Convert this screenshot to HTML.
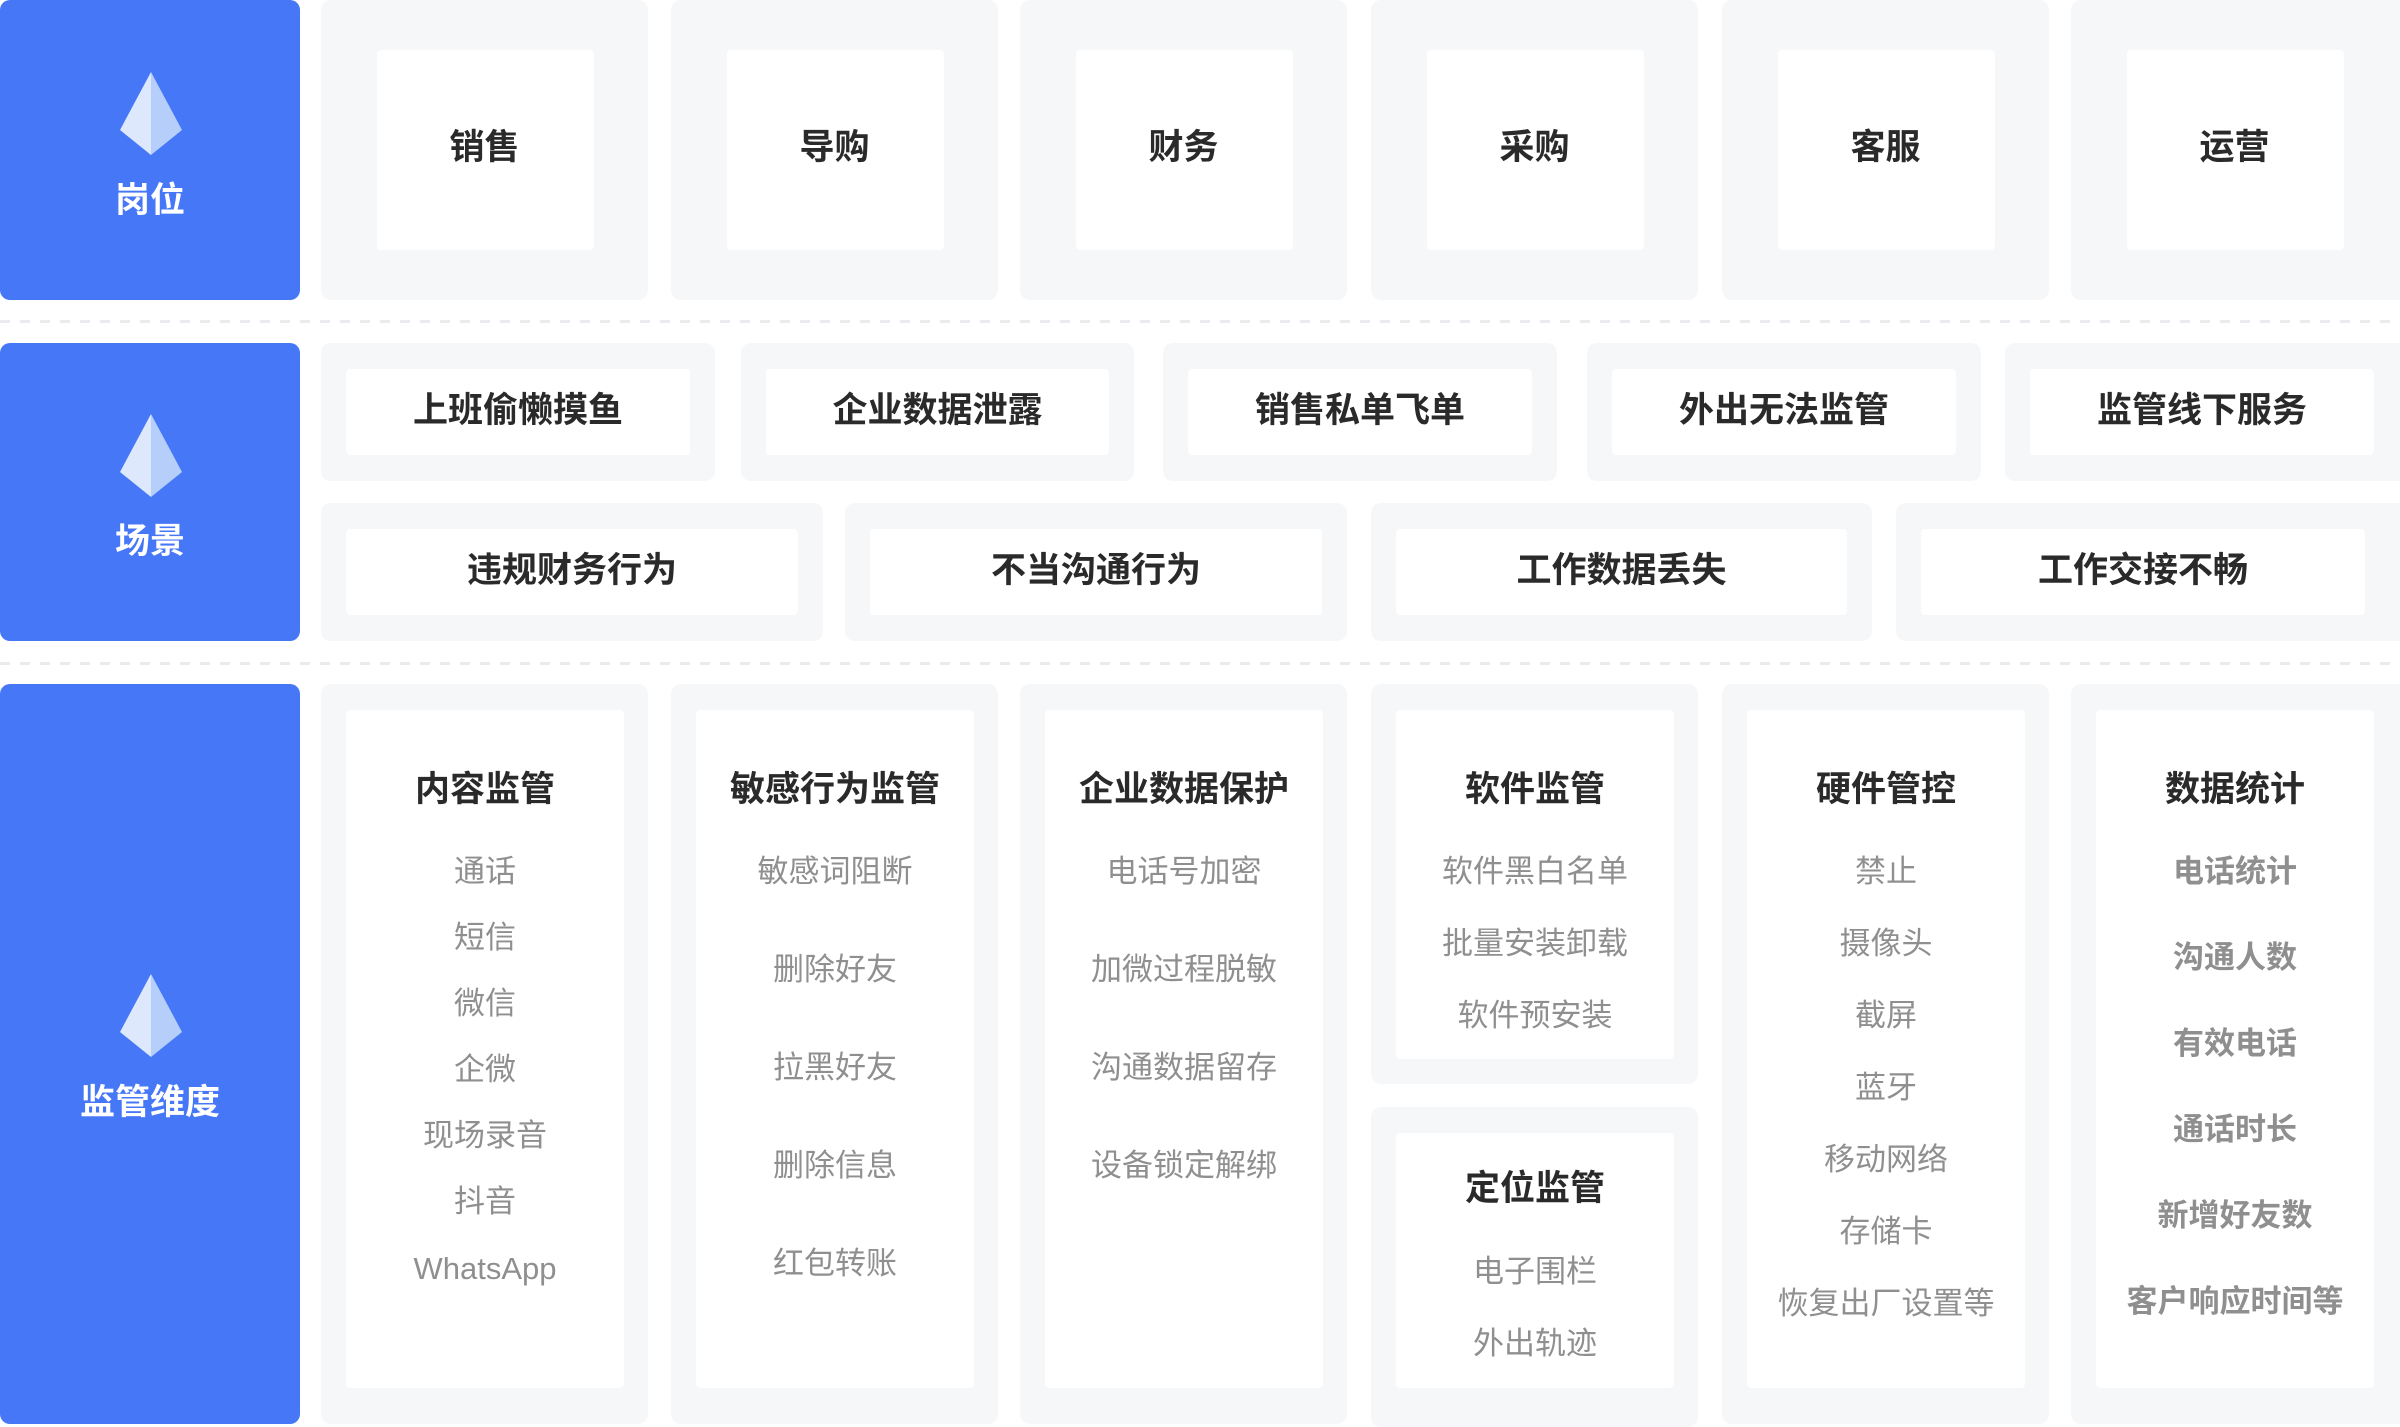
<!DOCTYPE html>
<html><head><meta charset="utf-8"><style>
*{margin:0;padding:0;box-sizing:border-box}
body{width:2400px;height:1416px;background:#fff;position:relative;overflow:hidden;font-family:"Liberation Sans","Noto Sans CJK SC",sans-serif}
div{position:absolute}
.b{background:#4677f6;border-radius:10px;left:0;width:300px}
.c{background:#f5f7f9;border-radius:10px}
.w{background:#fff;border-radius:4px}
.t{text-align:center;height:50px;line-height:50px;white-space:nowrap}
.h{font-size:35px;font-weight:bold;color:#2a2a2a}
.bl{font-size:35px;font-weight:bold;color:#fff;left:0;width:300px}
.i{font-size:31px;color:#8f8f8f}
.ib{font-size:31px;color:#8f8f8f;font-weight:bold}
.d{left:0;width:2400px;height:3px;background:repeating-linear-gradient(90deg,#e9ebef 0 10px,transparent 10px 20px)}
</style></head><body>
<!-- blue -->
<div class="b" style="top:0;height:300px"></div>
<div class="b" style="top:343px;height:298px"></div>
<div class="b" style="top:684px;height:740px"></div>
<svg style="position:absolute;left:0;top:0" width="300" height="1416">
<g id="dm"><polygon points="151,72 120,130 151,155" fill="#dde8fc"/><polygon points="151,72 182,130 151,155" fill="#b5cefa"/></g>
<g transform="translate(0,342)"><polygon points="151,72 120,130 151,155" fill="#dde8fc"/><polygon points="151,72 182,130 151,155" fill="#b5cefa"/></g>
<g transform="translate(0,902)"><polygon points="151,72 120,130 151,155" fill="#dde8fc"/><polygon points="151,72 182,130 151,155" fill="#b5cefa"/></g>
</svg>
<div class="t bl" style="top:176px">岗位</div>
<div class="t bl" style="top:517px">场景</div>
<div class="t bl" style="top:1078px">监管维度</div>
<div class="d" style="top:320px"></div>
<div class="d" style="top:662px"></div>

<!-- row1 -->
<div class="c" style="left:321px;top:0;width:327px;height:300px"></div><div class="w" style="left:377px;top:50px;width:217px;height:200px"></div><div class="t h" style="left:321px;width:327px;top:123px">销售</div>
<div class="c" style="left:671px;top:0;width:327px;height:300px"></div><div class="w" style="left:727px;top:50px;width:217px;height:200px"></div><div class="t h" style="left:671px;width:327px;top:123px">导购</div>
<div class="c" style="left:1020px;top:0;width:327px;height:300px"></div><div class="w" style="left:1076px;top:50px;width:217px;height:200px"></div><div class="t h" style="left:1020px;width:327px;top:123px">财务</div>
<div class="c" style="left:1371px;top:0;width:327px;height:300px"></div><div class="w" style="left:1427px;top:50px;width:217px;height:200px"></div><div class="t h" style="left:1371px;width:327px;top:123px">采购</div>
<div class="c" style="left:1722px;top:0;width:327px;height:300px"></div><div class="w" style="left:1778px;top:50px;width:217px;height:200px"></div><div class="t h" style="left:1722px;width:327px;top:123px">客服</div>
<div class="c" style="left:2071px;top:0;width:340px;height:300px"></div><div class="w" style="left:2127px;top:50px;width:217px;height:200px"></div><div class="t h" style="left:2071px;width:327px;top:123px">运营</div>

<!-- row2a -->
<div class="c" style="left:321px;top:343px;width:394px;height:138px"></div><div class="w" style="left:346px;top:369px;width:344px;height:86px"></div><div class="t h" style="left:321px;width:394px;top:386px">上班偷懒摸鱼</div>
<div class="c" style="left:741px;top:343px;width:393px;height:138px"></div><div class="w" style="left:766px;top:369px;width:343px;height:86px"></div><div class="t h" style="left:741px;width:393px;top:386px">企业数据泄露</div>
<div class="c" style="left:1163px;top:343px;width:394px;height:138px"></div><div class="w" style="left:1188px;top:369px;width:344px;height:86px"></div><div class="t h" style="left:1163px;width:394px;top:386px">销售私单飞单</div>
<div class="c" style="left:1587px;top:343px;width:394px;height:138px"></div><div class="w" style="left:1612px;top:369px;width:344px;height:86px"></div><div class="t h" style="left:1587px;width:394px;top:386px">外出无法监管</div>
<div class="c" style="left:2005px;top:343px;width:410px;height:138px"></div><div class="w" style="left:2030px;top:369px;width:344px;height:86px"></div><div class="t h" style="left:2030px;width:344px;top:386px">监管线下服务</div>
<!-- row2b -->
<div class="c" style="left:321px;top:503px;width:502px;height:138px"></div><div class="w" style="left:346px;top:529px;width:452px;height:86px"></div><div class="t h" style="left:321px;width:502px;top:546px">违规财务行为</div>
<div class="c" style="left:845px;top:503px;width:502px;height:138px"></div><div class="w" style="left:870px;top:529px;width:452px;height:86px"></div><div class="t h" style="left:845px;width:502px;top:546px">不当沟通行为</div>
<div class="c" style="left:1371px;top:503px;width:501px;height:138px"></div><div class="w" style="left:1396px;top:529px;width:451px;height:86px"></div><div class="t h" style="left:1371px;width:501px;top:546px">工作数据丢失</div>
<div class="c" style="left:1896px;top:503px;width:520px;height:138px"></div><div class="w" style="left:1921px;top:529px;width:444px;height:86px"></div><div class="t h" style="left:1921px;width:444px;top:546px">工作交接不畅</div>

<!-- row3 -->
<div class="c" style="left:321px;top:684px;width:327px;height:740px"></div><div class="w" style="left:346px;top:710px;width:278px;height:678px"></div>
<div class="c" style="left:671px;top:684px;width:327px;height:740px"></div><div class="w" style="left:696px;top:710px;width:278px;height:678px"></div>
<div class="c" style="left:1020px;top:684px;width:327px;height:740px"></div><div class="w" style="left:1045px;top:710px;width:278px;height:678px"></div>
<div class="c" style="left:1371px;top:684px;width:327px;height:400px"></div><div class="w" style="left:1396px;top:710px;width:278px;height:349px"></div>
<div class="c" style="left:1371px;top:1107px;width:327px;height:320px"></div><div class="w" style="left:1396px;top:1133px;width:278px;height:255px"></div>
<div class="c" style="left:1722px;top:684px;width:327px;height:740px"></div><div class="w" style="left:1747px;top:710px;width:278px;height:678px"></div>
<div class="c" style="left:2071px;top:684px;width:340px;height:740px"></div><div class="w" style="left:2096px;top:710px;width:278px;height:678px"></div>

<div class="t h" style="left:346px;width:278px;top:765px">内容监管</div>
<div class="t i" style="left:346px;width:278px;top:847px">通话</div>
<div class="t i" style="left:346px;width:278px;top:913px">短信</div>
<div class="t i" style="left:346px;width:278px;top:979px">微信</div>
<div class="t i" style="left:346px;width:278px;top:1045px">企微</div>
<div class="t i" style="left:346px;width:278px;top:1111px">现场录音</div>
<div class="t i" style="left:346px;width:278px;top:1177px">抖音</div>
<div class="t i" style="left:346px;width:278px;top:1244px">WhatsApp</div>

<div class="t h" style="left:696px;width:278px;top:765px">敏感行为监管</div>
<div class="t i" style="left:696px;width:278px;top:847px">敏感词阻断</div>
<div class="t i" style="left:696px;width:278px;top:945px">删除好友</div>
<div class="t i" style="left:696px;width:278px;top:1043px">拉黑好友</div>
<div class="t i" style="left:696px;width:278px;top:1141px">删除信息</div>
<div class="t i" style="left:696px;width:278px;top:1239px">红包转账</div>

<div class="t h" style="left:1045px;width:278px;top:765px">企业数据保护</div>
<div class="t i" style="left:1045px;width:278px;top:847px">电话号加密</div>
<div class="t i" style="left:1045px;width:278px;top:945px">加微过程脱敏</div>
<div class="t i" style="left:1045px;width:278px;top:1043px">沟通数据留存</div>
<div class="t i" style="left:1045px;width:278px;top:1141px">设备锁定解绑</div>

<div class="t h" style="left:1396px;width:278px;top:765px">软件监管</div>
<div class="t i" style="left:1396px;width:278px;top:847px">软件黑白名单</div>
<div class="t i" style="left:1396px;width:278px;top:919px">批量安装卸载</div>
<div class="t i" style="left:1396px;width:278px;top:991px">软件预安装</div>
<div class="t h" style="left:1396px;width:278px;top:1164px">定位监管</div>
<div class="t i" style="left:1396px;width:278px;top:1247px">电子围栏</div>
<div class="t i" style="left:1396px;width:278px;top:1319px">外出轨迹</div>

<div class="t h" style="left:1747px;width:278px;top:765px">硬件管控</div>
<div class="t i" style="left:1747px;width:278px;top:847px">禁止</div>
<div class="t i" style="left:1747px;width:278px;top:919px">摄像头</div>
<div class="t i" style="left:1747px;width:278px;top:991px">截屏</div>
<div class="t i" style="left:1747px;width:278px;top:1063px">蓝牙</div>
<div class="t i" style="left:1747px;width:278px;top:1135px">移动网络</div>
<div class="t i" style="left:1747px;width:278px;top:1207px">存储卡</div>
<div class="t i" style="left:1747px;width:278px;top:1279px">恢复出厂设置等</div>

<div class="t h" style="left:2096px;width:278px;top:765px">数据统计</div>
<div class="t ib" style="left:2096px;width:278px;top:847px">电话统计</div>
<div class="t ib" style="left:2096px;width:278px;top:933px">沟通人数</div>
<div class="t ib" style="left:2096px;width:278px;top:1019px">有效电话</div>
<div class="t ib" style="left:2096px;width:278px;top:1105px">通话时长</div>
<div class="t ib" style="left:2096px;width:278px;top:1191px">新增好友数</div>
<div class="t ib" style="left:2096px;width:278px;top:1277px">客户响应时间等</div>
</body></html>
